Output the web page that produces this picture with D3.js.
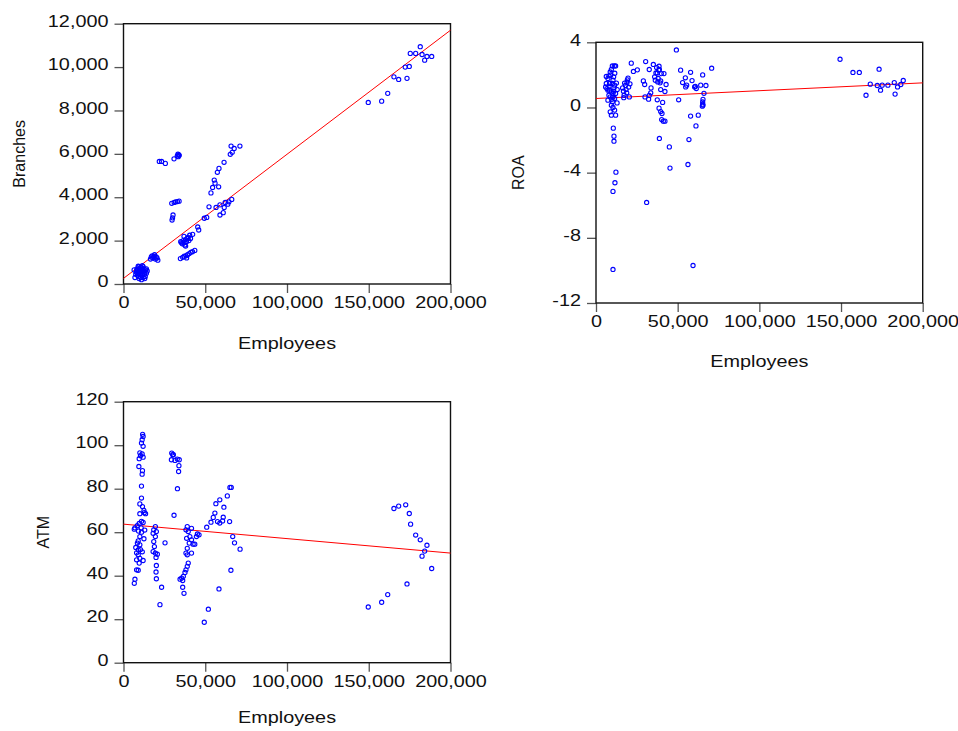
<!DOCTYPE html>
<html><head><meta charset="utf-8">
<script src="https://cdn.jsdelivr.net/npm/d3@7"></script>
<style>body{margin:0;background:#fff} text{font-family:"Liberation Sans",Arial,sans-serif;fill:#111}</style>
</head><body><svg id="c" width="958" height="731"></svg>
<script>
// ---- data ----
const xTicks = [0, 50000, 100000, 150000, 200000];
const branchesTicks = [0, 2000, 4000, 6000, 8000, 10000, 12000];
const roaTicks = [-12, -8, -4, 0, 4];
const atmTicks = [0, 20, 40, 60, 80, 100, 120];
const xLabel = "Employees";
const yLabels = ["Branches", "ROA", "ATM"];

// [employees, branches]
const branchesPts = [
 [7000,300],[7500,450],[8000,600],[8200,700],[8800,650],[9000,500],[9200,350],[9500,250],[9800,700],[10000,600],
 [10200,450],[10500,300],[10800,550],[11000,750],[11200,650],[11500,400],[11800,500],[12000,300],[12200,620],[12500,700],
 [12800,450],[13000,550],[13300,350],[13500,650],[14000,500],[14500,600],[9500,800],[10500,780],[11000,200],[12000,800],
 [8500,400],[13000,250],[7800,550],[14000,700],[6500,650],[9000,820],[11500,850],
 [16500,1150],[17000,1250],[17500,1300],[18000,1200],[18500,1280],[19000,1350],[19500,1150],[20000,1250],[20500,1200],[21000,1100],
 [21900,5650],[23300,5650],[25600,5560],[30900,5770],
 [32900,5900],[33300,5990],[33700,5960],[34100,5930],[33500,5870],
 [29500,3720],[31000,3760],[32000,3790],[33000,3800],[34000,3820],
 [29700,2950],[30000,3050],[30300,3180],
 [35000,1950],[35500,1900],[36000,1850],[36500,2000],[37000,1900],[37500,1800],[38000,2050],[38500,1950],[39000,2100],
 [39500,2150],[40000,2000],[40500,2250],[41000,2100],[37000,2200],[38000,1750],
 [34800,1170],[36200,1230],[37200,1280],[38200,1300],[38600,1200],[39200,1350],[40200,1400],[41200,1460],[42200,1490],[43600,1550],
 [42300,2290],[45400,2630],[46000,2490],[49400,3030],[50900,3070],[52300,3560],
 [53500,4200],[54500,4450],[55500,4790],[56000,4650],[57400,5150],[58400,5330],[58200,4480],[61500,5610],
 [56600,3530],[59000,3650],[61600,3530],[62200,3760],[63800,3680],[64500,3790],[66200,3900],
 [59000,3180],[61000,3290],
 [65300,5980],[66500,6070],[67700,6250],[65800,6360],[71200,6360],
 [149700,8370],[157900,8430],[161600,8790],[165400,9550],[168300,9430],[173400,9480],[172300,10000],[174800,10030],
 [175400,10630],[178700,10630],[182600,10580],[181500,10940],[184200,10320],[185600,10490],[188500,10490]
];
// [employees, ROA]
const roaPts = [
 [10000,2.55],[11200,2.55],[12000,2.55],[9400,2.33],[8700,2.18],[7900,1.94],[7300,1.78],[6300,1.47],[5900,1.26],[6700,1.16],
 [8300,1.06],[9400,0.96],[10400,0.86],[7900,0.75],[8700,0.65],[7300,0.45],[10000,0.35],[9400,0.14],[10400,0.0],[11400,-0.16],
 [8700,-0.27],[9400,-0.47],[12000,-0.47],[11400,1.37],[12000,0.86],[12900,0.28],[10400,1.67],[10800,1.88],[10000,1.47],[8300,1.47],
 [7300,1.06],[10400,0.65],[11400,0.55],[6300,1.9],[9000,2.0],[11000,1.2],[12500,1.5],[10800,1.0],[9700,0.5],[11500,2.1],[8000,1.3],[13000,1.1],
 [10600,-1.27],[11000,-1.76],[11000,-2.07],[12200,-3.97],[11600,-4.62],[10400,-5.15],[10400,-9.94],
 [16300,1.2],[16800,1.0],[17200,0.75],[17500,1.5],[18000,1.35],[18400,1.1],[18800,0.9],[19200,1.7],[19600,1.8],[20000,1.25],
 [20400,0.65],[20800,1.45],[17000,0.6],[19000,1.55],
 [21600,2.72],[22900,2.21],[25300,2.31],[30400,2.82],[29000,1.63],[29800,1.41],[33700,1.2],[33500,0.9],[32600,0.74],[32200,0.51],[30000,0.65],
 [31000,-5.83],
 [32600,2.33],[35100,2.64],[37100,2.45],[38600,2.53],[38800,2.33],[35900,1.88],[38100,1.78],[39600,1.63],[41600,2.08],[37500,2.12],
 [39200,1.51],[40000,2.08],[36700,2.12],[38400,2.29],[36300,1.67],[37800,1.57],
 [42900,1.41],[39600,1.1],[42200,0.98],[37500,0.47],[40800,0.31],[38600,-0.04],[39600,-0.25],[40400,-0.37],[40200,-0.74],[41200,-0.84],[42200,-0.84],
 [38800,-1.9],[44900,-2.42],[45300,-3.72],[49200,3.53],[50600,0.47],[51800,2.29],[53000,1.53],[54700,1.82],[55500,1.37],[54900,1.26],
 [57900,2.16],[58800,1.65],[60400,1.26],[61400,1.16],[60800,1.3],[57900,-0.53],[62600,-0.47],[61200,-1.13],[56900,-1.97],[56300,-3.5],[59400,-9.7],
 [64100,1.37],[67300,1.35],[66100,0.87],[65500,0.5],[65300,0.34],[65300,0.2],[65100,0.08],[65500,0.14],[65300,2.0],[70800,2.41],
 [149400,2.96],[157300,2.15],[161200,2.15],[173300,2.35],[165300,0.75],[167900,1.43],[172200,1.35],[174200,1.06],[175200,1.37],
 [178700,1.37],[182600,1.53],[183100,0.82],[184600,1.26],[186600,1.41],[188100,1.66]
];
// [employees, ATM]
const atmPts = [
 [11700,105],[12000,104],[11400,102.5],[11000,101],[12000,99.5],[10000,96.5],[10400,95.2],[11400,96],[9600,93.8],[12000,94.5],
 [9400,90.2],[11600,88.3],[11400,86.7],[11000,81.2],[11000,75.7],[10000,73],[11600,71.8],[12500,70],[12700,69],[13500,68.5],
 [10000,68.5],[7000,62],[8400,63],[9600,64],[11000,65],[12000,64.5],[13000,61],[6600,61.4],[10000,58],[9000,56],
 [10000,54.2],[10400,52],[9000,51.9],[8000,50.5],[9000,49.6],[10000,48],[8000,47.3],[9600,45.8],[8000,42.7],[9000,42.5],
 [7000,38.4],[6600,36.5],[11000,60],[12500,57],[8500,55],[11500,51],[7500,53],[10800,62],[9200,60.5],[12000,47],
 [19500,62.6],[18500,61.1],[20100,60.3],[18100,59.5],[19500,58],[18500,55.7],[18900,53.4],[18100,51.1],[19500,50.4],[19900,48.4],
 [20100,44.7],[19900,41.7],[20100,38.6],[20700,49.9],[23300,34.7],[22300,26.7],[25400,55.1],
 [29500,96.4],[30500,95.6],[30100,95.6],[29300,93.3],[31500,93],[32900,93.6],[34100,93.3],[33900,90.6],[33700,87.9],[33000,80],[30900,67.8],
 [39000,62.6],[38200,61.1],[41600,61.8],[39600,60.3],[40600,58],[38600,57.2],[41600,56.5],[40200,55],[42600,54.5],[39000,52.6],
 [38200,50.4],[39000,49.6],[41600,50.4],[39600,45.8],[39000,44.3],[38200,42.7],[37600,41.5],[36600,39.7],[35600,38.9],[34600,38.4],
 [36200,37.8],[36200,34.7],[37000,31.9],[43600,54.5],[46200,58.8],[45200,59.2],[44600,58],
 [49400,18.6],[51900,24.6],[50900,62.3],[53500,64.6],[54900,66.8],[55900,68.8],[56500,73.1],[58400,33.9],[65700,42.5],
 [66800,58],[67900,55.1],[71300,52.2],[58900,74.9],[61400,71.5],[63500,76.7],[65100,80.6],[65900,80.6],[61000,66.9],
 [57500,64.9],[58900,64.2],[60600,65.2],[64900,64.9],
 [149700,25.6],[157900,27.8],[161600,31.3],[165400,70.9],[168300,72],[172600,72.6],[174800,68.6],[175600,63.7],[173400,36.2],
 [178700,58.7],[181500,56.5],[185600,54.0],[184200,51.3],[182600,49],[188500,43.3]
];
// fitted line end points [employees, value]
const branchesFit = [[0, 260], [200000, 11700]];
const roaFit = [[0, 0.55], [200000, 1.51]];
const atmFit = [[0, 63.7], [200000, 50.4]];

// ---- drawing ----
const SX = 1.24; // horizontal stretch of the original's text
const svg = d3.select("#c");
const panels = [
  {pts: branchesPts, fit: branchesFit, ticks: branchesTicks, label: yLabels[0], box: [123.5, 450.5, 23.7, 284], titleX: 25, xTitleDy: 65},
  {pts: roaPts, fit: roaFit, ticks: roaTicks, label: yLabels[1], box: [596, 922.7, 42.3, 303], titleX: 524, xTitleDy: 64},
  {pts: atmPts, fit: atmFit, ticks: atmTicks, label: yLabels[2], box: [123.5, 450.5, 401.7, 662.7], titleX: 49, xTitleDy: 60}
];
const fmt = d3.format(",");
const plain = d => String(d); // hyphen-minus like the original

panels.forEach(p => {
  const [l, r, t, b] = p.box;
  const x = d3.scaleLinear().domain([0, 200000]).range([l, r]);
  const y = d3.scaleLinear().domain(d3.extent(p.ticks)).range([b, t]);
  const g = svg.append("g");

  // axes
  const ax = g.append("g").attr("transform", `translate(0,${b})`)
    .call(d3.axisBottom(x).tickValues(xTicks).tickFormat(fmt).tickSize(9).tickPadding(4).tickSizeOuter(0));
  const ay = g.append("g").attr("transform", `translate(${l},0)`)
    .call(d3.axisLeft(y).tickValues(p.ticks).tickFormat(p.ticks === branchesTicks ? fmt : plain).tickSize(9).tickPadding(6).tickSizeOuter(0));
  [ax, ay].forEach(a => {
    a.select(".domain").remove();
    a.selectAll(".tick line").attr("stroke", "#555").attr("stroke-width", 1.3);
    a.selectAll(".tick text").style("font-size", "16px").attr("fill", "#111");
  });
  ax.selectAll(".tick text").attr("transform", `scale(${SX},1)`);
  ay.selectAll(".tick text").attr("x", -15 / SX).attr("dy", "0.17em").attr("transform", `scale(${SX},1)`);

  // frame
  g.append("rect").attr("x", l).attr("y", t).attr("width", r - l).attr("height", b - t)
    .attr("fill", "none").attr("stroke", "#111").attr("stroke-width", 1.4);

  // regression line
  g.append("line")
    .attr("x1", x(p.fit[0][0])).attr("y1", y(p.fit[0][1]))
    .attr("x2", x(p.fit[1][0])).attr("y2", y(p.fit[1][1]))
    .attr("stroke", "#ff0000").attr("stroke-width", 1);

  // points
  g.append("g").selectAll("circle").data(p.pts).join("circle")
    .attr("cx", d => x(d[0])).attr("cy", d => y(d[1])).attr("r", 2.1)
    .attr("fill", "none").attr("stroke", "#0000ff").attr("stroke-width", 1.1);

  // titles
  g.append("text").attr("transform", `translate(${(l + r) / 2},${b + p.xTitleDy}) scale(${SX},1)`)
    .attr("text-anchor", "middle").style("font-size", "16px").text(xLabel);
  g.append("text").attr("transform", `translate(${p.titleX},${(t + b) / 2}) rotate(-90)`)
    .attr("text-anchor", "middle").style("font-size", "16px").text(p.label);
});
</script></body></html>
